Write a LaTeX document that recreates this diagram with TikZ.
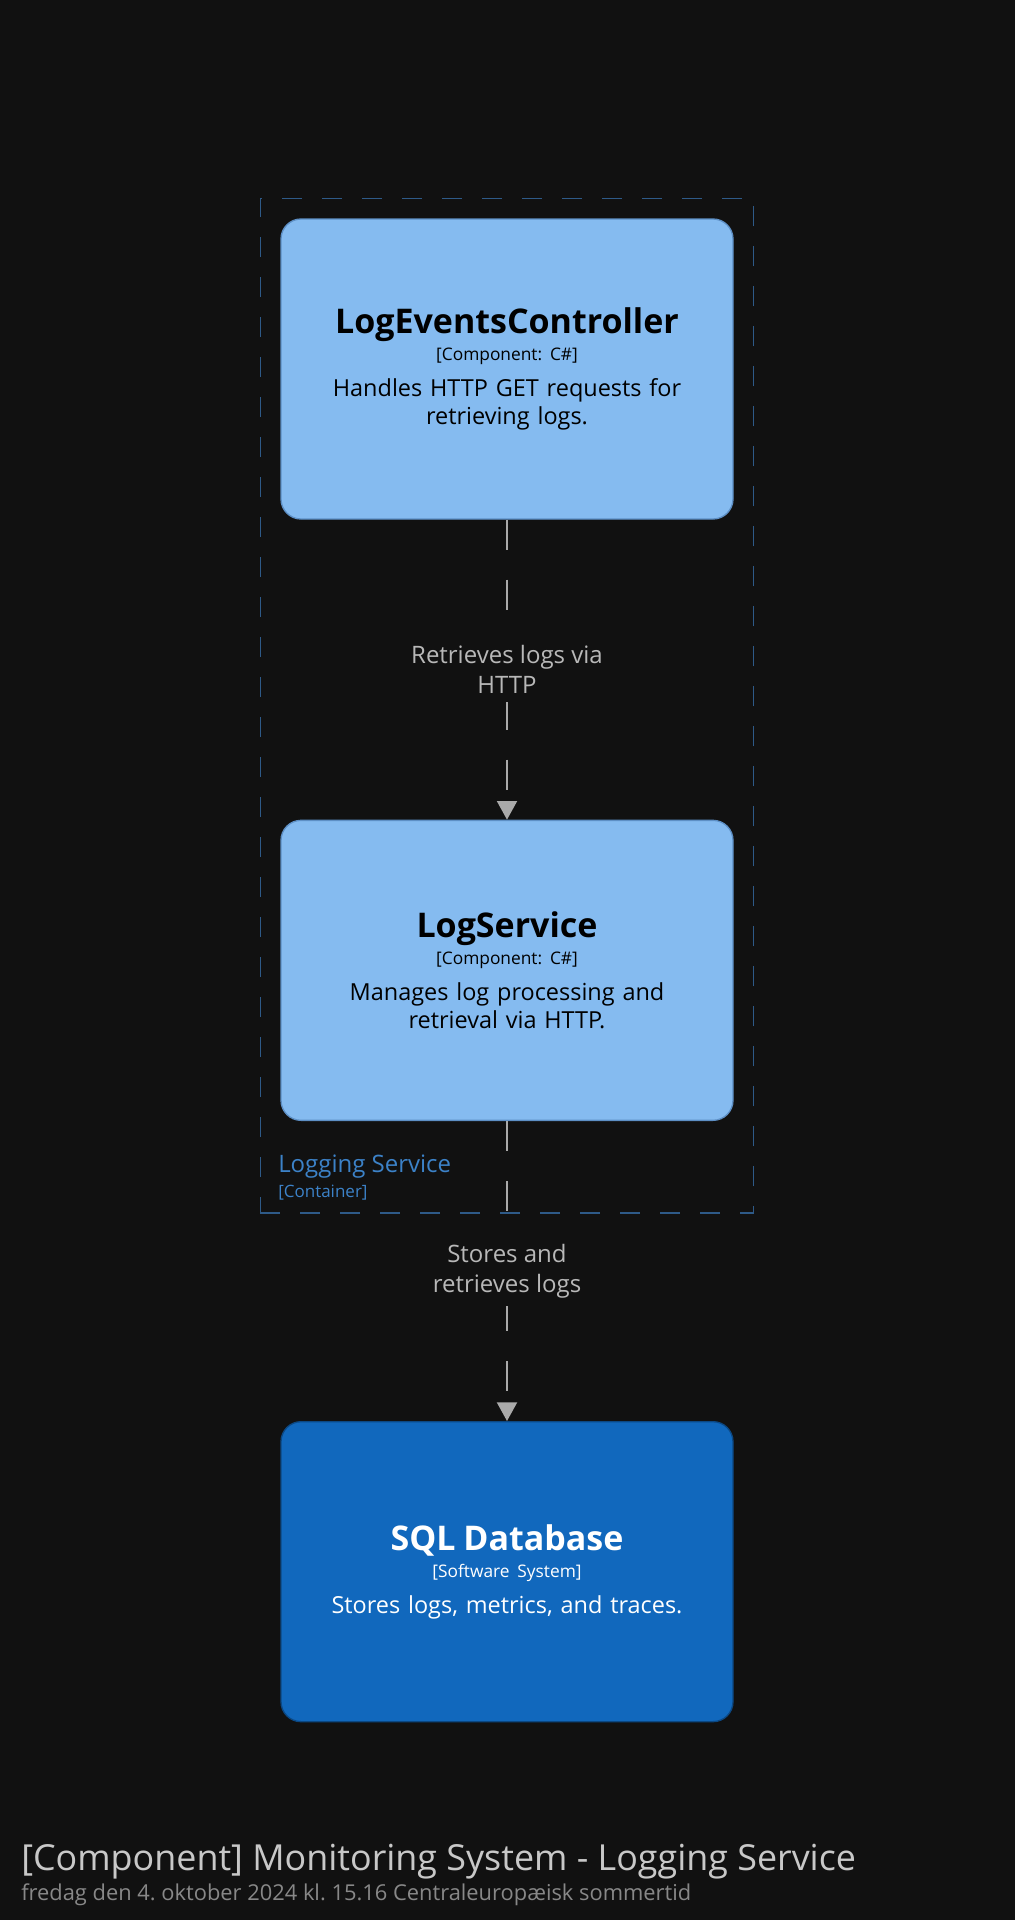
\documentclass[tikz,border=0pt]{standalone}
\usepackage{fontspec}
\setmainfont{Open Sans}
\usetikzlibrary{positioning,fit,arrows.meta}
\definecolor{LSBack}{HTML}{111111}
\definecolor{LSComp}{HTML}{85BBF0}
\definecolor{LSCompLine}{HTML}{5D8FC5}
\definecolor{LSSys}{HTML}{1168BD}
\definecolor{LSSysLine}{HTML}{0B4884}
\definecolor{LSBound}{HTML}{2E5A88}
\definecolor{LSBoundText}{HTML}{3C82C8}
\definecolor{LSRel}{HTML}{AAAAAA}
\definecolor{LSRelText}{HTML}{B8B8B8}
\definecolor{LSTitle}{HTML}{C8C8C8}
\definecolor{LSDate}{HTML}{888888}
\frenchspacing

\newcommand{\elemtext}[3]{{\fontsize{25.5}{30}\selectfont\bfseries #1}\\[-1pt]{\fontsize{13}{16}\selectfont\mbox{#2}}\\[6pt]#3}

\begin{document}
\begin{tikzpicture}[x=0.75pt,y=0.75pt,
  comp/.style={rectangle,rounded corners=15pt,fill=LSComp,draw=LSCompLine,line width=1pt,
    minimum width=339pt,minimum height=225pt,text width=320pt,align=center,inner sep=0pt,
    font=\fontsize{17.6}{21}\selectfont,text=black},
  sys/.style={comp,fill=LSSys,draw=LSSysLine,text=white},
  rel/.style={draw=LSRel,line width=1.5pt,dash pattern=on 22.5pt off 22.5pt,
    -{Triangle[width=15pt,length=14pt]}},
  rellabel/.style={fill=LSBack,text=LSRelText,align=center,inner xsep=3pt,inner ysep=6pt,
    font=\fontsize{18}{22.5}\selectfont},
  bound/.style={draw=LSBound,line width=1pt,dash pattern=on 15pt off 15pt,inner sep=15pt}]
\path[use as bounding box,fill=LSBack] (0,0) rectangle (1015,-1920);

% elements
\node[comp] (ctrl) at (507,-369) {\elemtext{LogEventsController}{[Component: C\#]}{Handles HTTP GET requests for\\retrieving logs.}};
\node[comp,below=225pt of ctrl] (svc) {\elemtext{LogService}{[Component: C\#]}{Manages log processing and\\retrieval via HTTP.}};
\node[sys,below=225pt of svc] (db) {\elemtext{SQL Database}{[Software System]}{Stores logs, metrics, and traces.}};

% container boundary
\coordinate (boundfoot) at ([yshift=-54pt]svc.south);
\node[bound,fit=(ctrl)(svc)(boundfoot)] (bound) {};
\node[anchor=base west,inner sep=0pt,text=LSBoundText,font=\fontsize{18}{21}\selectfont] (boundname) at (278,-1172) {Logging Service};
\node[anchor=base west,inner sep=0pt,text=LSBoundText,font=\fontsize{12.75}{15}\selectfont] (boundtype) at (278,-1197) {[Container]};

% relationships
\draw[rel] (ctrl) -- node[rellabel] (retlabel) {Retrieves logs via\\HTTP} (svc);
\draw[rel] (svc) -- node[rellabel] (storelabel) {Stores and\\retrieves logs} (db);

% footer
\node[anchor=base west,inner sep=0pt,text=LSTitle,font=\fontsize{26.9}{32}\selectfont] (diagtitle) at (21,-1870) {[Component] Monitoring System - Logging Service};
\node[anchor=base west,inner sep=0pt,text=LSDate,font=\fontsize{16.4}{19}\selectfont] (diagdate) at (21,-1900) {fredag den 4. oktober 2024 kl. 15.16 Centraleuropæisk sommertid};
\end{tikzpicture}
\end{document}
